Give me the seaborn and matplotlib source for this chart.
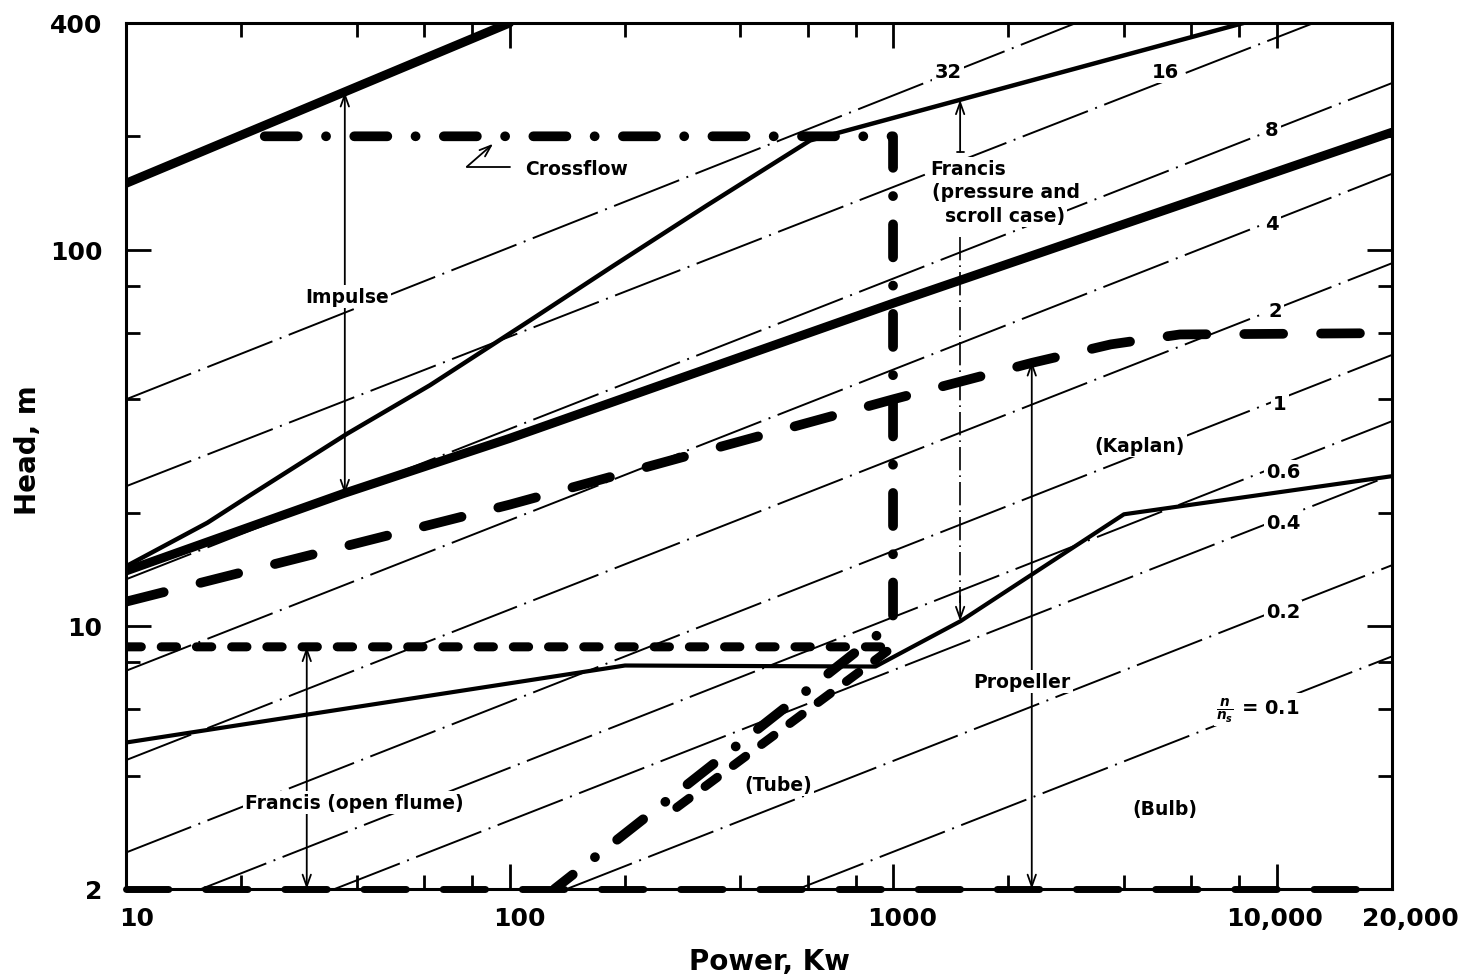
import matplotlib
matplotlib.use("Agg")
import matplotlib.pyplot as plt
import matplotlib.ticker as mticker
import matplotlib.transforms as mtransforms
import seaborn as sns

# --- 1. values (Power in kW, Head in m) ---
# n/ns reference lines, straight on log-log: start and end points
NS_RATIO = ["32", "16", "8", "4", "2", "1", "0.6", "0.4", "0.2", "0.1"]
NS_P0 = [10, 10, 10, 10, 10, 10, 15.7, 35, 141, 566]
NS_H0 = [40, 23.5, 13.3, 7.6, 4.4, 2.5, 2, 2, 2, 2]
NS_P1 = [3000, 12500, 20000, 20000, 20000, 20000, 20000, 20000, 20000, 20000]
NS_H1 = [400, 400, 277, 159, 92, 52.5, 35, 25.2, 14.5, 8.3]
NS_LABEL_P = [1390, 5120, 9730, 9730, 9910, 10200, 10400, 10400, 10400, 8950]
NS_LABEL_H = [298, 298, 208, 117, 69, 39, 25.7, 18.8, 10.9, 6.0]

# turbine boundaries
IMPULSE_UPPER_P = [10, 100]
IMPULSE_UPPER_H = [150, 400]
IMPULSE_LOWER_P = [10, 37, 100, 1000, 20000]
IMPULSE_LOWER_H = [14, 22.5, 31.5, 72, 205]
CROSSFLOW_SOLID_P = [10, 16.3, 21, 37.7, 62, 113, 186, 327, 608, 8200]
CROSSFLOW_SOLID_H = [14.4, 18.8, 22.2, 32.4, 43.6, 64.8, 90.4, 131, 195, 400]
CROSSFLOW_BOX_P = [23, 1000, 1000, 131]
CROSSFLOW_BOX_H = [200, 200, 10.2, 2]
KAPLAN_P = [10, 100, 1000, 2300, 3700, 5600, 20000]
KAPLAN_H = [11.6, 21, 40, 50, 56, 59.5, 60]
OPEN_FLUME_P = [10, 1000, 252]
OPEN_FLUME_H = [8.8, 8.8, 3.1]
PROPELLER_P = [10, 200, 900, 1500, 4000, 20000]
PROPELLER_H = [4.9, 7.85, 7.8, 10.3, 19.8, 25]
BULB_P = [10, 20000]
BULB_H = [2, 2]

# axis ticks
X_TICKS = [10, 100, 1000, 10000, 20000]
X_TICK_LABELS = ["10", "100", "1000", "10,000", "20,000"]
X_MINOR = [20, 40, 60, 80, 200, 400, 600, 800, 2000, 4000, 6000, 8000]
Y_TICKS = [2, 10, 100, 400]
Y_TICK_LABELS = ["2", "10", "100", "400"]
Y_MINOR = [4, 6, 8, 20, 40, 60, 80, 200]

# region labels: text, power, head, alignment
REGION_TEXT = [
    ("Impulse", 37.7, 75, "center"),
    ("Crossflow", 110, 164, "left"),
    ("Francis", 1248, 164, "left"),
    ("(pressure and", 1262, 143, "left"),
    ("scroll case)", 1368, 123, "left"),
    ("(Kaplan)", 4400, 30.1, "center"),
    ("Propeller", 2170, 7.1, "center"),
    ("(Tube)", 501, 3.8, "center"),
    ("(Bulb)", 5120, 3.27, "center"),
    ("Francis (open flume)", 39.5, 3.4, "center"),
]
# double arrows: power, head top, head bottom
RANGE_ARROWS = [(37.2, 262, 22.4), (29.6, 8.8, 2.0), (2300, 50.5, 2.0)]

# --- 2. figure ---
sns.set_theme(style="ticks")
plt.rcParams['font.family'] = ['DejaVu Sans']
plt.rcParams['font.weight'] = 'bold'
plt.rcParams['text.color'] = 'black'
plt.rcParams['axes.labelcolor'] = 'black'

fig = plt.figure(figsize=(14.83, 9.79), dpi=100)
ax = fig.add_axes([126 / 1483, 1 - 890 / 979, 1266 / 1483, 866 / 979])
ax.set_xscale('log')
ax.set_yscale('log')


def draw(p, h, lw, ls, cap='butt', z=3, clip=True):
    sns.lineplot(x=p, y=h, ax=ax, color='black', linewidth=lw, linestyle=ls,
                 estimator=None, sort=False, dash_capstyle=cap,
                 solid_capstyle=cap, zorder=z, clip_on=clip)


# thin dash-dot n/ns lines
for p0, h0, p1, h1 in zip(NS_P0, NS_H0, NS_P1, NS_H1):
    draw([p0, p1], [h0, h1], 1.4, (0, (36, 4, 1, 4)), z=2)

# heavy boundaries
draw(IMPULSE_UPPER_P, IMPULSE_UPPER_H, 6.5, '-', cap='round')
draw(IMPULSE_LOWER_P, IMPULSE_LOWER_H, 6.5, '-', cap='round')
draw(CROSSFLOW_SOLID_P, CROSSFLOW_SOLID_H, 3.2, '-', cap='round')
draw(PROPELLER_P, PROPELLER_H, 3.0, '-', cap='round')
draw(CROSSFLOW_BOX_P, CROSSFLOW_BOX_H, 7, (0, (3.4, 2.9, 0.01, 2.9)), cap='round')
draw(KAPLAN_P, KAPLAN_H, 7, (0, (4, 3.9)), cap='round')
draw(OPEN_FLUME_P, OPEN_FLUME_H, 6.5, (0, (1.7, 2.2)), cap='round')
draw(BULB_P, BULB_H, 5, (0, (6.1, 5.3)), cap='round', clip=False)

ax.set_xlim(10, 20000)
ax.set_ylim(2, 400)

# --- 3. annotations ---
arrow_kw = dict(arrowstyle='<->,head_length=0.7,head_width=0.25', lw=1.3,
                color='black', shrinkA=0, shrinkB=0)
for p, h_top, h_bot in RANGE_ARROWS:
    ax.annotate('', xy=(p, h_top), xytext=(p, h_bot), arrowprops=arrow_kw, zorder=4)

one_way = dict(arrowstyle='->,head_length=0.7,head_width=0.25', lw=1.3,
               color='black', shrinkA=0, shrinkB=0)
# Francis (pressure) range marker: solid up, dash-dot down
ax.annotate('', xy=(1496, 250), xytext=(1496, 182), arrowprops=one_way, zorder=4)
ax.plot([1465, 1530], [182, 182], color='black', lw=1.3, zorder=4)
ax.plot([1496, 1496], [108, 11.5], color='black', lw=1.2,
        linestyle=(0, (14, 3, 1, 3)), zorder=4)
ax.annotate('', xy=(1496, 10.3), xytext=(1496, 12), arrowprops=one_way, zorder=4)

# crossflow leader
ax.plot([77.4, 100], [166, 166], color='black', lw=1.3, zorder=4)
ax.annotate('', xy=(90.6, 191), xytext=(77.4, 166), arrowprops=one_way, zorder=4)

box = dict(facecolor='white', edgecolor='none', pad=1.5)
for txt, p, h, ha in REGION_TEXT:
    ax.text(p, h, txt, ha=ha, va='center', fontsize=13.5, fontweight='bold',
            color='black', bbox=box, zorder=6)

for lab, p, h in zip(NS_RATIO, NS_LABEL_P, NS_LABEL_H):
    if lab == "0.1":
        lab = r'$\frac{n}{n_s}$ = 0.1'
    ax.text(p, h, lab, ha='center', va='center', fontsize=14, fontweight='bold',
            color='black', bbox=box, zorder=6)

# --- 4. axes formatting ---
ax.xaxis.set_major_locator(mticker.FixedLocator(X_TICKS))
ax.xaxis.set_major_formatter(mticker.FixedFormatter(X_TICK_LABELS))
ax.xaxis.set_minor_locator(mticker.FixedLocator(X_MINOR))
ax.xaxis.set_minor_formatter(mticker.NullFormatter())
ax.yaxis.set_major_locator(mticker.FixedLocator(Y_TICKS))
ax.yaxis.set_major_formatter(mticker.FixedFormatter(Y_TICK_LABELS))
ax.yaxis.set_minor_locator(mticker.FixedLocator(Y_MINOR))
ax.yaxis.set_minor_formatter(mticker.NullFormatter())

ax.tick_params(which='major', direction='in', length=18, width=2,
               top=True, right=True, labelsize=18, colors='black')
ax.tick_params(axis='x', which='major', pad=12)
ax.tick_params(axis='y', which='major', pad=17)
ax.tick_params(which='minor', direction='in', length=10, width=2,
               top=True, right=True, colors='black')
for side in ['top', 'bottom', 'left', 'right']:
    ax.spines[side].set_linewidth(2.2)
    ax.spines[side].set_color('black')

shift_px = [11, 10, 9, -2, 18]
for lbl, dx in zip(ax.get_xticklabels(), shift_px):
    lbl.set_fontweight('bold')
    lbl.set_transform(lbl.get_transform() +
                      mtransforms.ScaledTranslation(dx / 100, 0, fig.dpi_scale_trans))
for lbl in ax.get_yticklabels():
    lbl.set_fontweight('bold')

ax.set_xlabel("Power, Kw", fontsize=20, fontweight='bold', color='black')
ax.set_ylabel("Head, m", fontsize=20, fontweight='bold', color='black')
ax.xaxis.set_label_coords(0.508, -0.083)
ax.xaxis.label.set_verticalalignment('center')
ax.yaxis.set_label_coords(-0.0774, 0.508)
ax.yaxis.label.set_verticalalignment('center')
ax.grid(False)

fig.savefig("out.png", dpi=100)
